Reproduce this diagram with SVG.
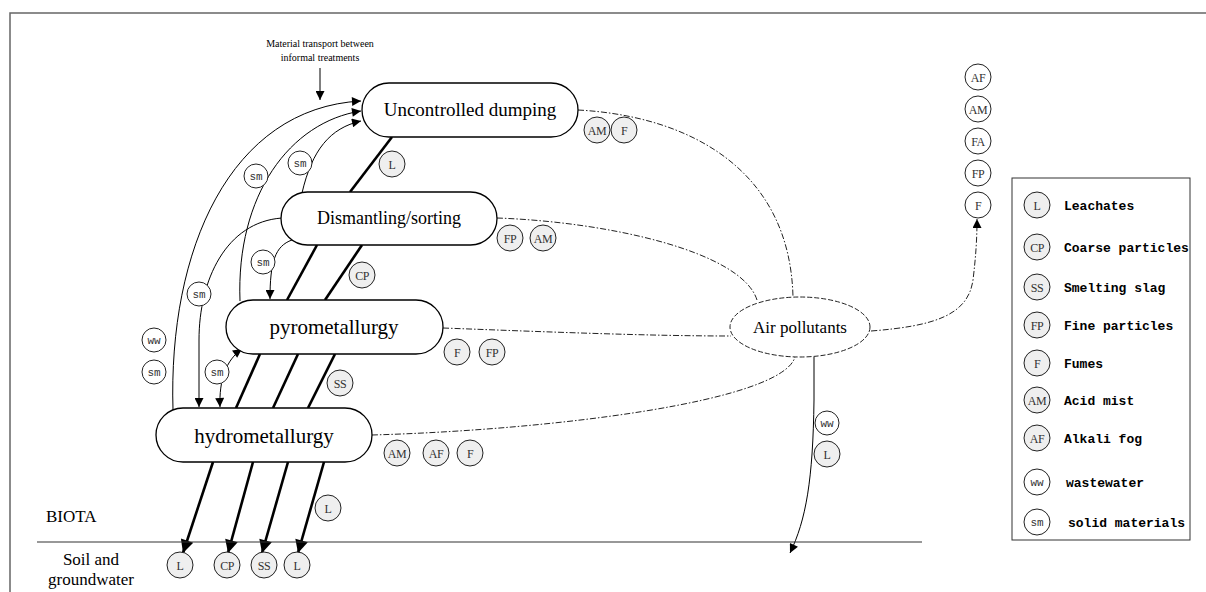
<svg xmlns="http://www.w3.org/2000/svg" width="1206" height="592" viewBox="0 0 1206 592">
<style>
.node{fill:#fff;stroke:#000;stroke-width:1.3}
.nt{font-family:"Liberation Serif",serif;fill:#000;text-anchor:middle}
.thin{fill:none;stroke:#000;stroke-width:1}
.thick{fill:none;stroke:#000;stroke-width:2.6}
.dd{fill:none;stroke:#222;stroke-width:1;stroke-dasharray:6 2 1.5 2}
.cg{fill:#efefef;stroke:#222;stroke-width:1}
.cw{fill:#fff;stroke:#222;stroke-width:1}
.ct{font-family:"Liberation Serif",serif;font-size:12px;fill:#333;text-anchor:middle;letter-spacing:-0.5px}
.cm{font-family:"Liberation Mono",monospace;font-size:11px;fill:#333;text-anchor:middle}
.lg{font-family:"Liberation Mono",monospace;font-size:13px;font-weight:bold;fill:#000}
.lab{font-family:"Liberation Serif",serif;font-size:17px;fill:#000}
</style>
<defs>
<marker id="ah" viewBox="0 0 10 10" refX="10" refY="5" markerWidth="11" markerHeight="9" markerUnits="userSpaceOnUse" orient="auto-start-reverse"><path d="M0,0 L10,5 L0,10z" fill="#000"/></marker>
<marker id="ahb" viewBox="0 0 10 10" refX="10" refY="5" markerWidth="20" markerHeight="13" markerUnits="userSpaceOnUse" orient="auto"><path d="M0,0 L10,5 L0,10z" fill="#000"/></marker>
</defs>
<rect x="10" y="13" width="1210" height="600" fill="#fff" stroke="#666" stroke-width="1.5"/>

<g id="connectors">
<!-- material transport label arrow -->
<line class="thin" x1="320" y1="68" x2="320" y2="100" marker-end="url(#ah)"/>
<!-- thin arrows into uncontrolled dumping -->
<path class="thin" d="M173,410 C168,250 230,108 361,101" marker-end="url(#ah)"/>
<path class="thin" d="M240,301 C236,195 290,122 361,111" marker-end="url(#ah)"/>
<path class="thin" d="M302,193 C312,150 330,128 361,121" marker-end="url(#ah)"/>
<!-- dismantling to hydrometallurgy -->
<path class="thin" d="M282,218 C226,222 199,280 199,340 L199,407" marker-end="url(#ah)"/>
<!-- dismantling to pyrometallurgy -->
<path class="thin" d="M292,240 C275,246 270,262 270,299" marker-end="url(#ah)"/>
<!-- pyro <-> hydro -->
<path class="thin" d="M220,407 C219,380 226,360 242,349" marker-start="url(#ah)" marker-end="url(#ah)"/>
<!-- thick leaching lines -->
<line class="thick" x1="392" y1="137" x2="350" y2="192"/>
<line class="thick" x1="317" y1="245" x2="287" y2="300"/>
<line class="thick" x1="362" y1="245" x2="325" y2="300"/>
<line class="thick" x1="260" y1="354" x2="236" y2="408"/>
<line class="thick" x1="298" y1="354" x2="273" y2="408"/>
<line class="thick" x1="335" y1="354" x2="308" y2="408"/>
<line class="thick" x1="213" y1="462" x2="183" y2="553" marker-end="url(#ahb)"/>
<line class="thick" x1="253" y1="462" x2="228" y2="553" marker-end="url(#ahb)"/>
<line class="thick" x1="288" y1="462" x2="262" y2="553" marker-end="url(#ahb)"/>
<line class="thick" x1="324" y1="462" x2="298" y2="553" marker-end="url(#ahb)"/>
<!-- dash-dot to air pollutants -->
<path class="dd" d="M578,110 C690,116 790,170 793,297"/>
<path class="dd" d="M497,218 C610,222 742,252 757,300"/>
<path class="dd" d="M443,328 C550,332 650,336 731,336"/>
<path class="dd" d="M372,435 C550,430 782,402 795,357"/>
<path class="dd" d="M871,331 C935,326 968,315 973,280 C976,255 977,238 977,219" marker-end="url(#ah)"/>
<!-- air pollutants to soil -->
<path class="thin" d="M814,357 L814,400 C813,480 806,520 790,553" marker-end="url(#ah)"/>
<!-- ground line -->
<line x1="37" y1="542" x2="922" y2="542" stroke="#333" stroke-width="1.2"/>
</g>

<g id="node-dumping">
<rect class="node" x="362" y="83" width="216" height="54" rx="27"/>
<text class="nt" x="470" y="116" font-size="19">Uncontrolled dumping</text>
</g>
<g id="node-dismantling">
<rect class="node" x="281" y="192" width="216" height="53" rx="26.5"/>
<text class="nt" x="389" y="224" font-size="18">Dismantling/sorting</text>
</g>
<g id="node-pyro">
<rect class="node" x="226" y="300" width="217" height="54" rx="27"/>
<text class="nt" x="334" y="334" font-size="21">pyrometallurgy</text>
</g>
<g id="node-hydro">
<rect class="node" x="156" y="408" width="216" height="54" rx="27"/>
<text class="nt" x="264" y="443" font-size="21">hydrometallurgy</text>
</g>
<g id="node-air">
<ellipse cx="800" cy="327" rx="70" ry="30" fill="#fff" stroke="#222" stroke-width="1" stroke-dasharray="5 2"/>
<text class="nt" x="800" y="333" font-size="17">Air pollutants</text>
</g>

<g id="annotation">
<text class="nt" x="320" y="47" font-size="10">Material transport between</text>
<text class="nt" x="320" y="61" font-size="10">informal treatments</text>
</g>

<g id="labels">
<circle class="cw" cx="256" cy="176" r="12"/><text class="cm" x="256" y="180">sm</text>
<circle class="cw" cx="300" cy="163" r="12"/><text class="cm" x="300" y="167">sm</text>
<circle class="cw" cx="263" cy="262" r="12"/><text class="cm" x="263" y="266">sm</text>
<circle class="cw" cx="199" cy="294" r="12"/><text class="cm" x="199" y="298">sm</text>
<circle class="cw" cx="217" cy="372" r="12"/><text class="cm" x="217" y="376">sm</text>
<circle class="cw" cx="154" cy="340" r="12"/><text class="cm" x="154" y="344" font-size="9">ww</text>
<circle class="cw" cx="154" cy="372" r="12"/><text class="cm" x="154" y="376">sm</text>

<circle class="cg" cx="392" cy="164" r="13"/><text class="ct" x="392" y="169">L</text>
<circle class="cg" cx="362" cy="275" r="13"/><text class="ct" x="362" y="280">CP</text>
<circle class="cg" cx="340" cy="383" r="13"/><text class="ct" x="340" y="388">SS</text>
<circle class="cg" cx="328" cy="508" r="13"/><text class="ct" x="328" y="513">L</text>

<circle class="cg" cx="180" cy="565" r="13"/><text class="ct" x="180" y="570">L</text>
<circle class="cg" cx="227" cy="565" r="13"/><text class="ct" x="227" y="570">CP</text>
<circle class="cg" cx="264" cy="565" r="13"/><text class="ct" x="264" y="570">SS</text>
<circle class="cg" cx="297" cy="565" r="13"/><text class="ct" x="297" y="570">L</text>

<circle class="cg" cx="597" cy="130" r="13"/><text class="ct" x="597" y="135">AM</text>
<circle class="cg" cx="624" cy="130" r="13"/><text class="ct" x="624" y="135">F</text>
<circle class="cg" cx="510" cy="238" r="13"/><text class="ct" x="510" y="243">FP</text>
<circle class="cg" cx="543" cy="238" r="13"/><text class="ct" x="543" y="243">AM</text>
<circle class="cg" cx="457" cy="352" r="13"/><text class="ct" x="457" y="357">F</text>
<circle class="cg" cx="492" cy="352" r="13"/><text class="ct" x="492" y="357">FP</text>
<circle class="cg" cx="397" cy="453" r="13"/><text class="ct" x="397" y="458">AM</text>
<circle class="cg" cx="436" cy="453" r="13"/><text class="ct" x="436" y="458">AF</text>
<circle class="cg" cx="470" cy="453" r="13"/><text class="ct" x="470" y="458">F</text>

<circle class="cw" cx="827" cy="423" r="12"/><text class="cm" x="827" y="427" font-size="9">ww</text>
<circle class="cg" cx="827" cy="454" r="13"/><text class="ct" x="827" y="459">L</text>

<circle class="cw" cx="978" cy="77" r="13"/><text class="ct" x="978" y="82">AF</text>
<circle class="cw" cx="978" cy="109" r="13"/><text class="ct" x="978" y="114">AM</text>
<circle class="cw" cx="978" cy="141" r="13"/><text class="ct" x="978" y="146">FA</text>
<circle class="cw" cx="978" cy="173" r="13"/><text class="ct" x="978" y="178">FP</text>
<circle class="cw" cx="978" cy="205" r="13"/><text class="ct" x="978" y="210">F</text>
</g>

<g id="soil-labels">
<text class="lab" x="46" y="522">BIOTA</text>
<text class="lab" x="91" y="565" text-anchor="middle">Soil and</text>
<text class="lab" x="91" y="585" text-anchor="middle">groundwater</text>
</g>

<g id="legend">
<rect x="1012" y="178" width="178" height="362" fill="#fff" stroke="#333" stroke-width="1"/>
<circle class="cg" cx="1037" cy="205" r="13"/><text class="ct" x="1037" y="210">L</text><text class="lg" x="1064" y="210">Leachates</text>
<circle class="cg" cx="1037" cy="247" r="13"/><text class="ct" x="1037" y="252">CP</text><text class="lg" x="1064" y="252">Coarse particles</text>
<circle class="cg" cx="1037" cy="287" r="13"/><text class="ct" x="1037" y="292">SS</text><text class="lg" x="1064" y="292">Smelting slag</text>
<circle class="cg" cx="1037" cy="325" r="13"/><text class="ct" x="1037" y="330">FP</text><text class="lg" x="1064" y="330">Fine particles</text>
<circle class="cg" cx="1037" cy="363" r="13"/><text class="ct" x="1037" y="368">F</text><text class="lg" x="1064" y="368">Fumes</text>
<circle class="cg" cx="1037" cy="400" r="13"/><text class="ct" x="1037" y="405">AM</text><text class="lg" x="1064" y="405">Acid mist</text>
<circle class="cg" cx="1037" cy="438" r="13"/><text class="ct" x="1037" y="443">AF</text><text class="lg" x="1064" y="443">Alkali fog</text>
<circle class="cw" cx="1037" cy="482" r="13"/><text class="cm" x="1037" y="486" font-size="9">ww</text><text class="lg" x="1066" y="487">wastewater</text>
<circle class="cw" cx="1037" cy="522" r="13"/><text class="cm" x="1037" y="526">sm</text><text class="lg" x="1068" y="527">solid materials</text>
</g>
</svg>
